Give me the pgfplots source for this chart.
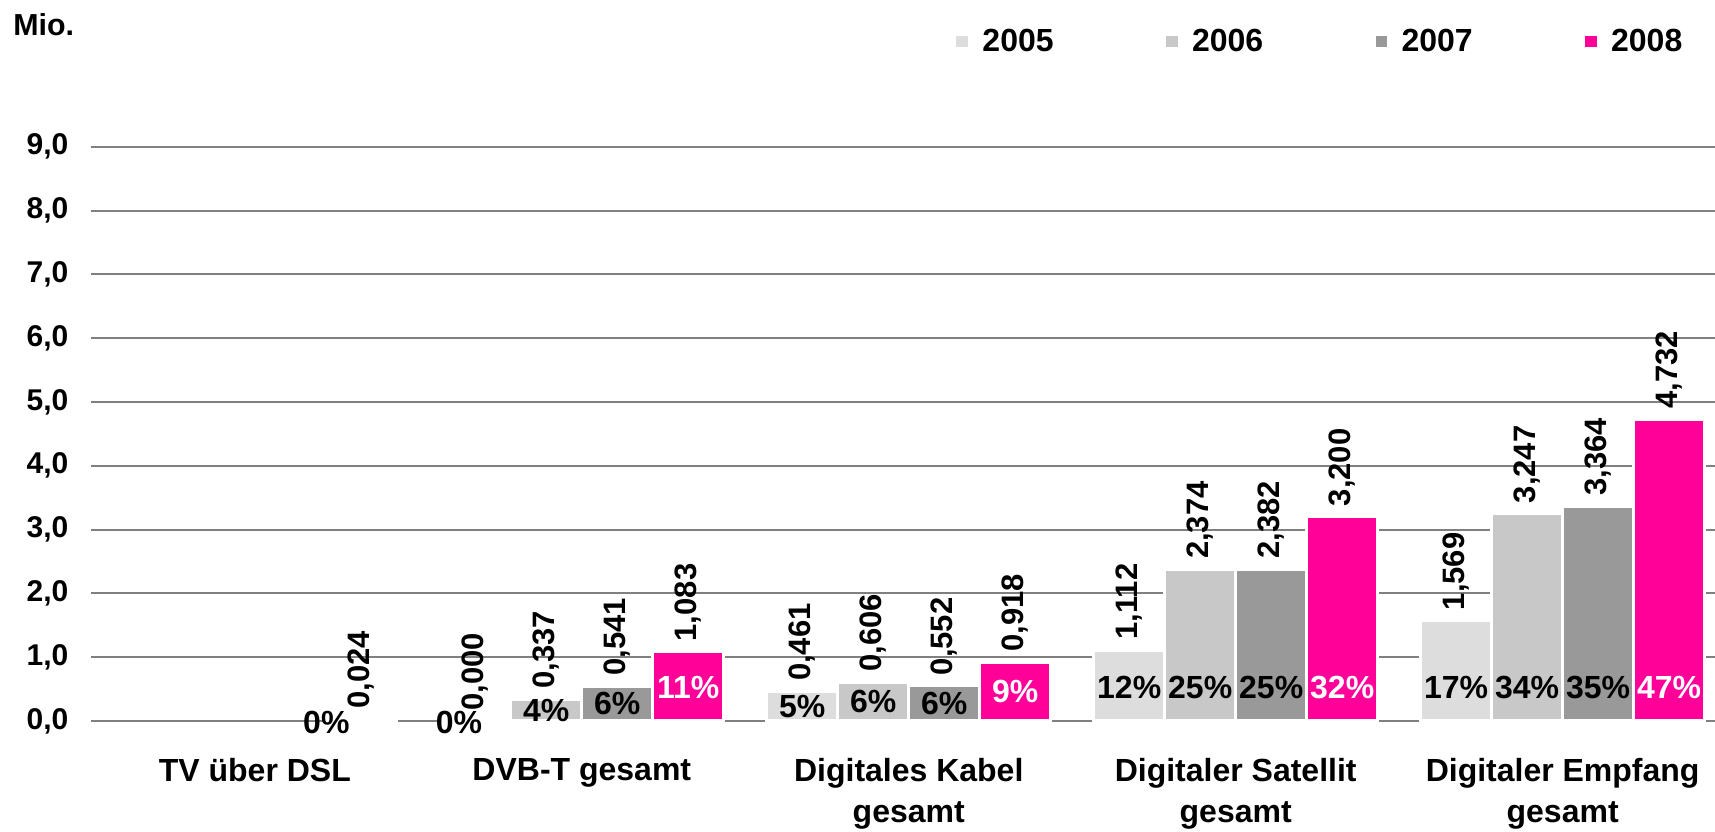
\documentclass[border=0pt]{standalone}
\usepackage{fontspec}
\setmainfont{Liberation Sans}
\usepackage{pgfplots}
\pgfplotsset{compat=1.18}
\definecolor{c05}{HTML}{DDDDDD}
\definecolor{c06}{HTML}{C8C8C8}
\definecolor{c07}{HTML}{999999}
\definecolor{c08}{HTML}{FF0099}
\definecolor{gridc}{HTML}{808080}
\newcommand{\tf}{\bfseries\fontsize{15}{18}\selectfont}
\newcommand{\cf}{\bfseries\fontsize{16}{20.5}\selectfont}
\newcommand{\vf}{\bfseries\fontsize{15.5}{18}\selectfont}
\newcommand{\pf}{\bfseries\fontsize{16}{18}\selectfont}
\pgfplotsset{
  mybar/.style 2 args={ybar, fill=#1, draw=white, line width=1.6pt, bar width=35.5pt, bar shift=#2,
    legend image code/.code={\fill[fill=#1] (0pt,-3.5pt) rectangle (7.5pt,3.5pt);},
    nodes near coords={\pgfmathprintnumber[fixed,fixed zerofill,precision=3,use comma,assume math mode=true]{\pgfplotspointmeta}},
    every node near coord/.append style={xshift=#2, rotate=90, anchor=west, font=\vf, inner sep=4.5pt, text=black}},
  pct/.style={draw=none, mark=none, forget plot, nodes near coords={\pgfplotspointmeta\%}, point meta=explicit symbolic,
    every node near coord/.append style={anchor=center, xshift=#1, font=\pf, inner sep=0pt}},
}
\begin{document}
\begin{tikzpicture}
\useasboundingbox (-45.7pt,-55.5pt) rectangle (811.9pt,360.5pt);
\begin{axis}[
  at={(0,0)}, anchor=south west,
  scale only axis, width=811.9pt, height=319pt,
  xmin=-0.5, xmax=4.466, ymin=0, ymax=10,
  axis line style={draw=none},
  ymajorgrids, grid style={gridc, line width=1pt},
  ytick={0,...,9},
  yticklabel={\pgfmathprintnumber[fixed,fixed zerofill,precision=1,use comma,assume math mode=true]{\tick}},
  yticklabel style={font=\tf, xshift=-8pt},
  major tick length=0,
  xtick={0,...,4},
  xticklabels={{TV über DSL},{DVB-T gesamt},{Digitales Kabel\\gesamt},{Digitaler Satellit\\gesamt},{Digitaler Empfang\\gesamt}},
  xticklabel style={align=center, font=\cf, anchor=north, yshift=-15.3pt},
  clip=false,
  legend columns=4,
  legend style={draw=none, fill=none, inner sep=0pt, at={(0.5306,1)}, anchor=west, yshift=20.7pt,
    font=\bfseries\fontsize{16}{19}\selectfont,
    nodes={inner sep=0pt},
    /tikz/every odd column/.append style={column sep=5.5pt},
    /tikz/every even column/.append style={column sep=54.6pt}},
]
\addplot[mybar={c05}{-53.25pt}] coordinates {(1,0.000) (2,0.461) (3,1.112) (4,1.569)};
\addlegendentry{2005}
\addplot[mybar={c06}{-17.75pt}] coordinates {(1,0.337) (2,0.606) (3,2.374) (4,3.247)};
\addlegendentry{2006}
\addplot[mybar={c07}{17.75pt}] coordinates {(1,0.541) (2,0.552) (3,2.382) (4,3.364)};
\addlegendentry{2007}
\addplot[mybar={c08}{53.25pt}] coordinates {(0,0.024) (1,1.083) (2,0.918) (3,3.200) (4,4.732)};
\addlegendentry{2008}
% percentage labels
\addplot[pct=-53.25pt] table[meta=l] {
x y l
0.95 -0.02 0
2 0.23 5
3 0.52 12
4 0.52 17
};
\addplot[pct=-17.75pt] table[meta=l] {
x y l
1 0.17 4
2 0.30 6
3 0.52 25
4 0.52 34
};
\addplot[pct=17.75pt] table[meta=l] {
x y l
1 0.27 6
2 0.276 6
3 0.52 25
4 0.52 35
};
\addplot[pct=53.25pt, every node near coord/.append style={text=white}] table[meta=l] {
x y l
1 0.52 11
2 0.459 9
3 0.52 32
4 0.52 47
};
\addplot[pct=53.25pt] table[meta=l] {
x y l
-0.107 -0.02 0
};
\node[anchor=base west, font=\bfseries\fontsize{15.2}{18}\selectfont, inner sep=0pt] at (rel axis cs:0,1) [xshift=-39.2pt, yshift=24pt] {Mio.};
\end{axis}
\end{tikzpicture}
\end{document}
